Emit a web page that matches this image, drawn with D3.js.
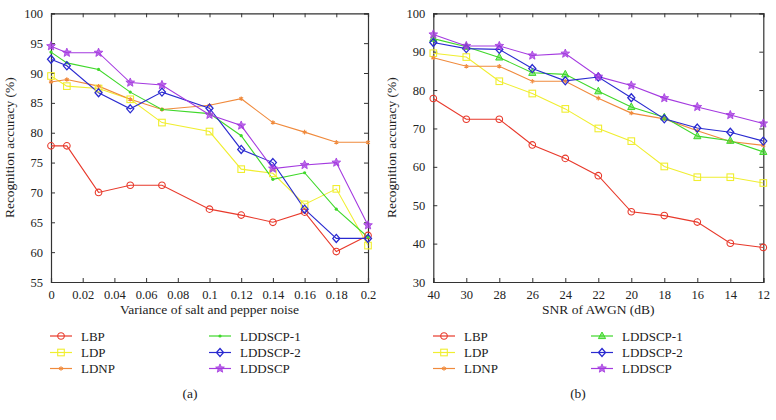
<!DOCTYPE html>
<html><head><meta charset="utf-8">
<script src="https://cdn.jsdelivr.net/npm/d3@7"></script>
<style>body{margin:0;background:#fff}svg{display:block}svg text{font-family:"Liberation Serif","Times New Roman","DejaVu Serif",serif !important;fill:#222}</style>
</head><body>
<svg id="c" width="776" height="420"></svg>
<script>
// ---- data ----
const seriesNames = ["LBP","LDP","LDNP","LDDSCP-1","LDDSCP-2","LDDSCP"];
const noiseVar = [0,0.01,0.03,0.05,0.07,0.1,0.12,0.14,0.16,0.18,0.2];
const xTicksA = [0,0.02,0.04,0.06,0.08,0.1,0.12,0.14,0.16,0.18,0.2];
const yTicksA = [55,60,65,70,75,80,85,90,95,100];
const aLBP      = [77.8,77.8,70.0,71.2,71.2,67.2,66.2,65.0,66.7,60.1,62.8];
const aLDP      = [89.5,87.8,87.4,85.6,81.7,80.2,73.9,73.2,68.0,70.6,61.1];
const aLDNP     = [88.5,88.9,87.8,85.6,83.9,84.6,85.7,81.7,80.1,78.4,78.4];
const aLDDSCP1  = [93.5,91.7,90.6,86.8,83.9,83.2,79.5,72.2,73.3,67.2,62.5];
const aLDDSCP2  = [92.3,91.2,86.7,84.0,86.8,84.1,77.2,75.0,67.2,62.3,62.3];
const aLDDSCP   = [94.5,93.4,93.4,88.4,88.0,83.0,81.2,74.0,74.6,75.0,64.5];

const snr = ["40","30","28","26","24","22","20","18","16","14","12"];
const yTicksB = [30,40,50,60,70,80,90,100];
const bLBP      = [77.8,72.4,72.4,65.7,62.2,57.7,48.3,47.3,45.6,40.1,39.0];
const bLDP      = [89.6,88.6,82.3,79.1,75.1,70.0,66.7,60.1,57.3,57.3,55.8];
const bLDNP     = [88.4,86.2,86.2,82.3,82.3,77.9,74.0,72.5,69.4,66.6,65.6];
const bLDDSCP1  = [93.4,91.3,88.5,84.5,84.1,79.7,75.6,72.9,68.0,66.8,63.9];
const bLDDSCP2  = [92.4,90.8,90.6,85.6,82.4,83.4,78.0,72.5,70.1,69.0,66.7];
const bLDDSCP   = [94.5,91.5,91.5,89.0,89.5,83.5,81.2,77.9,75.6,73.5,71.3];

const colors = ["#e8392b","#f0ee30","#f08a3c","#3fd82a","#2a2ad0","#a43ae0"];
const FONT = "'Liberation Serif','Times New Roman','DejaVu Serif',serif";

const svg = d3.select("#c");

function star(size){ // 5-point star path
  const R=size, r=size*0.45; let p="";
  for(let i=0;i<10;i++){const a=-Math.PI/2+i*Math.PI/5;const rr=i%2?r:R;p+=(i?"L":"M")+(rr*Math.cos(a)).toFixed(2)+","+(rr*Math.sin(a)).toFixed(2);}
  return p+"Z";
}
function marker(g, idx, variant, color){
  switch(idx){
    case 0: g.append("circle").attr("r",3.3).attr("fill","none").attr("stroke",color).attr("stroke-width",1.1); break;
    case 1: g.append("rect").attr("x",-3.3).attr("y",-3.3).attr("width",6.6).attr("height",6.6).attr("fill","none").attr("stroke",color).attr("stroke-width",1.1); break;
    case 2: g.append("path").attr("d",d3.symbol().type(d3.symbolAsterisk).size(14)()).attr("fill","none").attr("stroke",color).attr("stroke-width",1.1); break;
    case 3:
      if(variant==="a") g.append("circle").attr("r",1.6).attr("fill",color);
      else g.append("path").attr("d","M0,-4L3.6,2.6L-3.6,2.6Z").attr("fill",color).attr("fill-opacity",0.55).attr("stroke",color).attr("stroke-width",1);
      break;
    case 4: g.append("path").attr("d","M0,-4L3.5,0L0,4L-3.5,0Z").attr("fill","none").attr("stroke",color).attr("stroke-width",1.3); break;
    case 5: g.append("path").attr("d",star(4.6)).attr("fill",color).attr("fill-opacity",0.75).attr("stroke",color).attr("stroke-width",0.8); break;
  }
}

function drawPanel(opt){
  const {x, y, xTickVals, xFmt, yTickVals, xLabel, data, xs, variant} = opt;
  const [x0,x1] = x.range(), [y0,y1] = [y.range()[1], y.range()[0]];
  const g = svg.append("g");
  const bottom = d3.axisBottom(x).tickValues(xTickVals).tickFormat(xFmt).tickSize(-4).tickPadding(8);
  const top = d3.axisTop(x).tickValues(xTickVals).tickFormat("").tickSize(-4);
  const left = d3.axisLeft(y).tickValues(yTickVals).tickFormat(d3.format("d")).tickSize(-4).tickPadding(8);
  const right = d3.axisRight(y).tickValues(yTickVals).tickFormat("").tickSize(-4);
  const ax = [
    g.append("g").attr("transform",`translate(0,${y1})`).call(bottom),
    g.append("g").attr("transform",`translate(0,${y0})`).call(top),
    g.append("g").attr("transform",`translate(${x0},0)`).call(left),
    g.append("g").attr("transform",`translate(${x1},0)`).call(right)
  ];
  ax.forEach(a=>{a.attr("font-family",FONT);
    a.selectAll(".domain").attr("stroke","#333").attr("stroke-width",1.2);
    a.selectAll(".tick line").attr("stroke","#333");
    a.selectAll("text").attr("font-size",12.5).attr("fill","#222").style("font-family",FONT);});
  ax[0].selectAll("text").attr("dy","0.71em");
  data.forEach((vals, si)=>{
    const c = colors[si];
    const line = d3.line().x((d,i)=>x(xs[i])).y(d=>y(d));
    g.append("path").datum(vals).attr("d",line).attr("fill","none").attr("stroke",c).attr("stroke-width",1.1);
  });
  data.forEach((vals, si)=>{
    vals.forEach((v,i)=>{
      const m = g.append("g").attr("transform",`translate(${x(xs[i])},${y(v)})`);
      marker(m, si, variant, colors[si]);
    });
  });
  g.append("text").attr("x",(x0+x1)/2).attr("y",y1+32).attr("text-anchor","middle").attr("font-size",13.5).style("font-family",FONT).text(xLabel);
  g.append("text").attr("transform",`translate(${x0-37},${(y0+y1)/2}) rotate(-90)`).attr("text-anchor","middle").attr("font-size",13.5).style("font-family",FONT).text("Recognition accuracy (%)");
}

// Panel (a)
const xa = d3.scaleLinear().domain([0,0.2]).range([51,368]);
const ya = d3.scaleLinear().domain([55,100]).range([282,13.3]);
drawPanel({x:xa, y:ya, xTickVals:xTicksA, xFmt:d=>String(+d.toFixed(2)), yTickVals:yTicksA,
  xLabel:"Variance of salt and pepper noise", data:[aLBP,aLDP,aLDNP,aLDDSCP1,aLDDSCP2,aLDDSCP], xs:noiseVar, variant:"a"});

// Panel (b)
const xb = d3.scalePoint().domain(snr).range([433.3,763.3]);
const yb = d3.scaleLinear().domain([30,100]).range([282,13.3]);
drawPanel({x:xb, y:yb, xTickVals:snr, xFmt:d=>d, yTickVals:yTicksB,
  xLabel:"SNR of AWGN (dB)", data:[bLBP,bLDP,bLDNP,bLDDSCP1,bLDDSCP2,bLDDSCP], xs:snr, variant:"b"});

// Legends
function legend(cx1, cx2, variant, caption, capX){
  const rowsY = [336,352.5,368.5];
  seriesNames.forEach((n,i)=>{
    const lx = i<3 ? cx1 : cx2, ly = rowsY[i%3];
    const g = svg.append("g");
    g.append("line").attr("x1",lx).attr("x2",lx+22).attr("y1",ly).attr("y2",ly).attr("stroke",colors[i]).attr("stroke-width",1.2);
    const m = g.append("g").attr("transform",`translate(${lx+11},${ly})`);
    marker(m, i, variant, colors[i]);
    g.append("text").attr("x",lx+31).attr("y",ly).attr("dy","0.35em").attr("font-size",13).style("font-family",FONT).text(n);
  });
  svg.append("text").attr("x",capX).attr("y",393).attr("dy","0.35em").attr("text-anchor","middle").attr("font-size",13.5).style("font-family",FONT).text(caption);
}
legend(50, 209, "a", "(a)", 190);
legend(433, 591, "b", "(b)", 578);
</script>
</body></html>
